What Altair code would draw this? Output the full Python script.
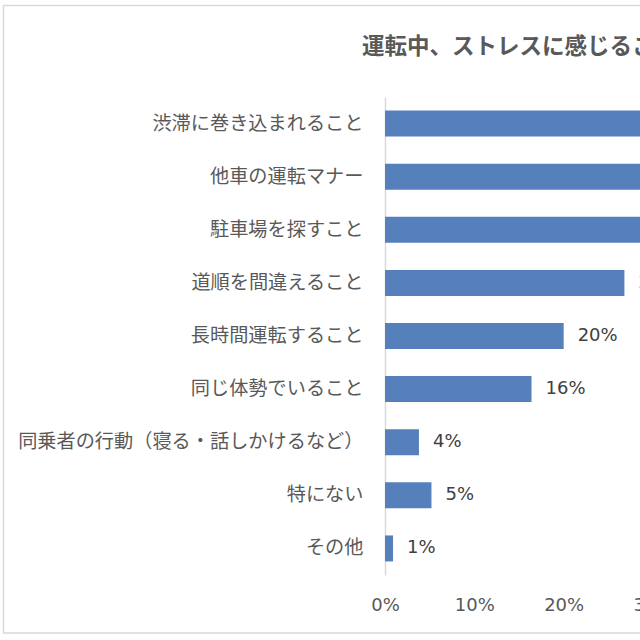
import altair as alt
import pandas as pd

# Survey answers: things drivers find stressful while driving
items = [
    "渋滞に巻き込まれること",
    "他車の運転マナー",
    "駐車場を探すこと",
    "道順を間違えること",
    "長時間運転すること",
    "同じ体勢でいること",
    "同乗者の行動（寝る・話しかけるなど）",
    "特にない",
    "その他",
]
shares = [0.56, 0.44, 0.31, 0.268, 0.20, 0.164, 0.038, 0.052, 0.009]
x_ticks = [0, 0.1, 0.2, 0.3, 0.4, 0.5, 0.6]
title_text = "運転中、ストレスに感じること"

df = pd.DataFrame({"item": items, "share": shares})

JP = "Noto Sans CJK JP"
NUM = "DejaVu Sans"
BLUE = "#5680BC"
GRAY = "#595959"

# visible part of the plot area, and the full length of the value axis
W, H = 255, 478
AXIS_LEN = 536

x = alt.X(
    "share:Q",
    scale=alt.Scale(domain=[0, 0.6], nice=False, range=[0, AXIS_LEN]),
    axis=alt.Axis(
        values=x_ticks, format=".0%", grid=False, domain=False, ticks=False,
        labelPadding=21, labelFont=NUM, labelFontSize=18, labelColor=GRAY,
        labelOverlap=False, labelBound=False, labelFlush=False, title=None,
    ),
)
y = alt.Y(
    "item:N",
    sort=items,
    scale=alt.Scale(paddingInner=0.51, paddingOuter=0.255),
    axis=alt.Axis(
        ticks=False, domain=True, domainColor="#d9d9d9", domainWidth=1.5,
        labelPadding=22, labelFont=JP, labelFontSize=19.2, labelColor=GRAY,
        labelLimit=500, title=None,
    ),
)

bars = alt.Chart(df).mark_bar(color=BLUE, clip=False).encode(x=x, y=y)

labels = alt.Chart(df).mark_text(
    align="left", baseline="middle", dx=14, font=NUM, fontSize=18, color="#404040"
).encode(x="share:Q", y=alt.Y("item:N", sort=items), text=alt.Text("share:Q", format=".0%"))

title = alt.Chart(pd.DataFrame({"t": [title_text]})).mark_text(
    align="left", baseline="middle", font=JP, fontSize=22.5, fontWeight="bold", color=GRAY
).encode(x=alt.value(-23), y=alt.value(-50), text="t:N")

# light outer frame around the whole chart
frame = alt.Chart(pd.DataFrame({"f": [0]})).mark_rect(
    filled=False, stroke="#d9d9d9", strokeWidth=1.5, clip=False
).encode(
    x=alt.value(-381.5), x2=alt.value(AXIS_LEN + 110), y=alt.value(-91.5), y2=alt.value(H + 58)
)

chart = (
    alt.layer(frame, bars, labels, title)
    .properties(
        width=W, height=H,
        autosize=alt.AutoSizeParams(type="none"),
        padding={"left": 385, "top": 97, "right": 0, "bottom": 65},
        background="white",
    )
    .configure_view(stroke=None)
)

chart.save("out.html", embed_options={"renderer": "svg", "actions": False})
